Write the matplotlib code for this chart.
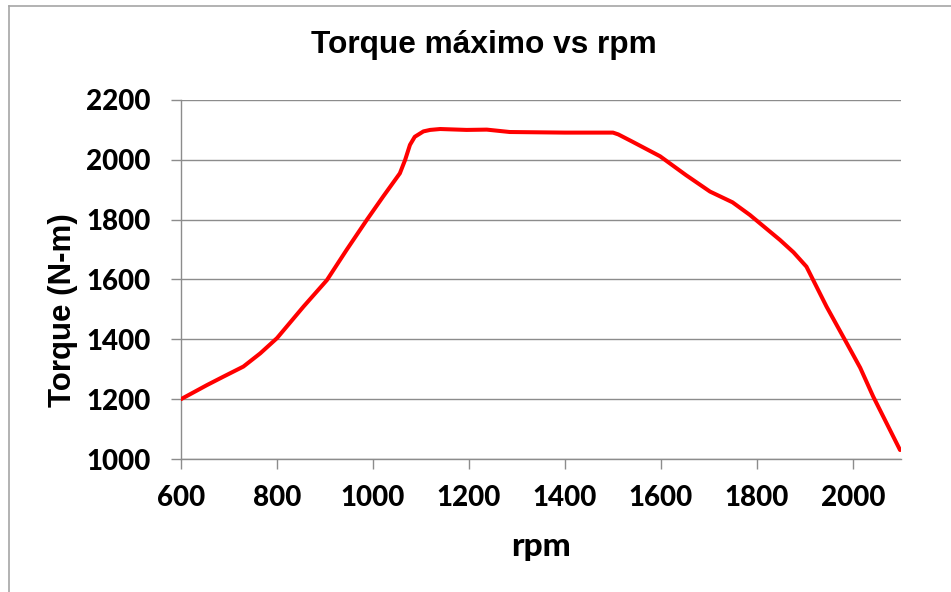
import matplotlib
matplotlib.use("Agg")
import matplotlib.pyplot as plt
from matplotlib.lines import Line2D

rpm = [600, 654, 688, 730, 765, 800, 855, 904, 945, 987, 1021, 1056, 1067, 1077,
       1087, 1105, 1119, 1140, 1195, 1237, 1285, 1400, 1500, 1511, 1540, 1598,
       1652, 1702, 1749, 1785, 1848, 1876, 1903, 1945, 1987, 2015, 2042, 2098]
torque = [1200, 1247, 1275, 1309, 1353, 1404, 1509, 1598, 1699, 1799, 1877, 1955,
          2000, 2050, 2077, 2095, 2100, 2103, 2100, 2101, 2093, 2091, 2091, 2085,
          2061, 2012, 1949, 1894, 1858, 1816, 1732, 1691, 1643, 1509, 1387, 1305,
          1209, 1030]
x_ticks = [600, 800, 1000, 1200, 1400, 1600, 1800, 2000]
y_ticks = [1000, 1200, 1400, 1600, 1800, 2000, 2200]
title = "Torque máximo vs rpm"
xlabel = "rpm"
ylabel = "Torque (N-m)"

W, H = 951, 592
fig = plt.figure(figsize=(W / 100, H / 100), dpi=100)
ax = fig.add_axes([181 / W, 1 - 459 / H, 720 / W, 359 / H])

grid_c = "#8c8c8c"
ax.plot(rpm, torque, color="#ff0000", lw=2.9, solid_capstyle="round",
        solid_joinstyle="round", zorder=3)
ax.set_xlim(600, 2100)
ax.set_ylim(1000, 2200)
ax.set_xticks(x_ticks)
ax.set_yticks(y_ticks)
ax.yaxis.grid(True, color=grid_c, lw=1.0)
ax.set_axisbelow(True)
for s in ["top", "right"]:
    ax.spines[s].set_visible(False)
for s in ["left", "bottom"]:
    ax.spines[s].set_color(grid_c)
    ax.spines[s].set_linewidth(1.0)
ax.tick_params(axis="both", direction="out", color=grid_c, width=1.0, length=7)
ax.tick_params(axis="y", pad=15)
ax.tick_params(axis="x", pad=12)
for lab in ax.get_xticklabels() + ax.get_yticklabels():
    lab.set_fontfamily("Lato")
    lab.set_fontweight(900)
    lab.set_fontsize(20)

fig.text(484 / W, 1 - 53 / H, title, ha="center", va="baseline",
         family="Liberation Sans", weight="bold", fontsize=22.8)
fig.text(63 / W, 1 - 310 / H, ylabel, ha="center", va="center", rotation=90,
         family="Liberation Sans", weight="bold", fontsize=22.5)
fig.text(541 / W, 1 - 556 / H, xlabel, ha="center", va="baseline",
         family="Lato", weight=900, fontsize=24)

# outer chart-area border
bc = "#a6a6a6"
fig.add_artist(Line2D([9 / W, 9 / W], [0, 1 - 6 / H], color=bc, lw=1.2,
                      transform=fig.transFigure))
fig.add_artist(Line2D([9 / W, 1], [1 - 6 / H, 1 - 6 / H], color=bc, lw=1.2,
                      transform=fig.transFigure))

fig.savefig("out.png", dpi=100)
